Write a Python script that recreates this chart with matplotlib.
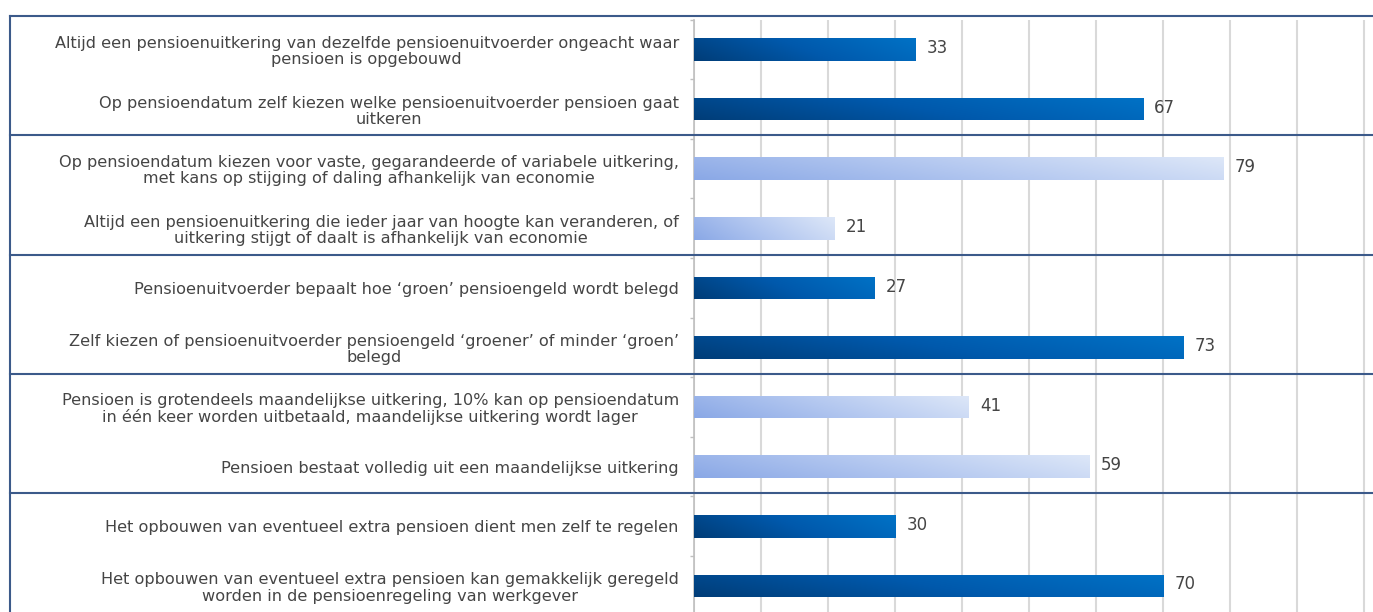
import numpy as np
import matplotlib
matplotlib.use('Agg')
import matplotlib.pyplot as plt
from matplotlib.colors import LinearSegmentedColormap
from matplotlib.lines import Line2D
from matplotlib import transforms

labels = [
    'Altijd een pensioenuitkering van dezelfde pensioenuitvoerder ongeacht waar\npensioen is opgebouwd',
    'Op pensioendatum zelf kiezen welke pensioenuitvoerder pensioen gaat\nuitkeren',
    'Op pensioendatum kiezen voor vaste, gegarandeerde of variabele uitkering,\nmet kans op stijging of daling afhankelijk van economie',
    'Altijd een pensioenuitkering die ieder jaar van hoogte kan veranderen, of\nuitkering stijgt of daalt is afhankelijk van economie',
    'Pensioenuitvoerder bepaalt hoe \u2018groen\u2019 pensioengeld wordt belegd',
    'Zelf kiezen of pensioenuitvoerder pensioengeld \u2018groener\u2019 of minder \u2018groen\u2019\nbelegd',
    'Pensioen is grotendeels maandelijkse uitkering, 10% kan op pensioendatum\nin \u00e9\u00e9n keer worden uitbetaald, maandelijkse uitkering wordt lager',
    'Pensioen bestaat volledig uit een maandelijkse uitkering',
    'Het opbouwen van eventueel extra pensioen dient men zelf te regelen',
    'Het opbouwen van eventueel extra pensioen kan gemakkelijk geregeld\nworden in de pensioenregeling van werkgever',
]
values = [33, 67, 79, 21, 27, 73, 41, 59, 30, 70]
group = [0, 0, 1, 1, 2, 2, 3, 3, 4, 4]  # pairs of answers per question

dark_cmap = LinearSegmentedColormap.from_list('dark', ['#013d78', '#0059ac', '#0072c6'])
light_cmap = LinearSegmentedColormap.from_list('light', ['#8aa8e6', '#b4c8f0', '#dde7f8'])

fig = plt.figure(figsize=(13.73, 6.12), dpi=100)
ax = fig.add_axes([0.5055, -0.006, 0.4945, 0.9738])

y = np.arange(len(values))
bars = ax.barh(y, values, height=0.38, color='none', edgecolor='none', zorder=3)

# gradient fill, clipped to each bar (slight diagonal)
grad = np.linspace(0, 1, 256)[None, :] + np.linspace(0, 0.25, 20)[:, None]
for b, g in zip(bars, group):
    cmap = light_cmap if g % 2 == 1 else dark_cmap
    x0, y0 = b.get_x(), b.get_y()
    w, h = b.get_width(), b.get_height()
    im = ax.imshow(grad, cmap=cmap, vmin=0, vmax=1.25, aspect='auto',
                   extent=[x0, x0 + w, y0, y0 + h], zorder=3, interpolation='bilinear')
    im.set_clip_path(b)

for v, yy in zip(values, y):
    ax.annotate(str(v), (v, yy), xytext=(8, 1), textcoords='offset points',
                ha='left', va='center', fontsize=12, color='#454545')

ax.set_xlim(0, 101.3)
ax.set_ylim(len(values) - 0.5, -0.5)
ax.set_xticks(np.arange(0, 101, 10))
ax.tick_params(axis='x', length=0, labelbottom=False)
ax.grid(axis='x', color='#d9d9d9', lw=1.5, zorder=0)
ax.set_yticks(y)
ax.set_yticklabels(labels, fontsize=11.6, color='#454545', multialignment='center',
                   linespacing=1.1)
ax.tick_params(axis='y', which='major', length=0, pad=11)
ax.set_yticks(np.arange(-0.5, len(values), 1), minor=True)
ax.tick_params(axis='y', which='minor', length=3, color='#bfbfbf', width=1)
for s in ['top', 'right', 'bottom']:
    ax.spines[s].set_visible(False)
ax.spines['left'].set_color('#bfbfbf')
ax.spines['left'].set_linewidth(1.2)

# blue box lines separating the question pairs
tr = transforms.blended_transform_factory(fig.transFigure, ax.transData)
for k in range(5):
    yl = 2 * k - 0.56
    fig.add_artist(Line2D([10 / 1373, 1], [yl, yl], transform=tr, color='#3c5a8a', lw=1.5))
fig.add_artist(Line2D([10 / 1373, 10 / 1373], [-0.56, 10], transform=tr, color='#3c5a8a', lw=1.5))

fig.savefig('out.png', dpi=100)
